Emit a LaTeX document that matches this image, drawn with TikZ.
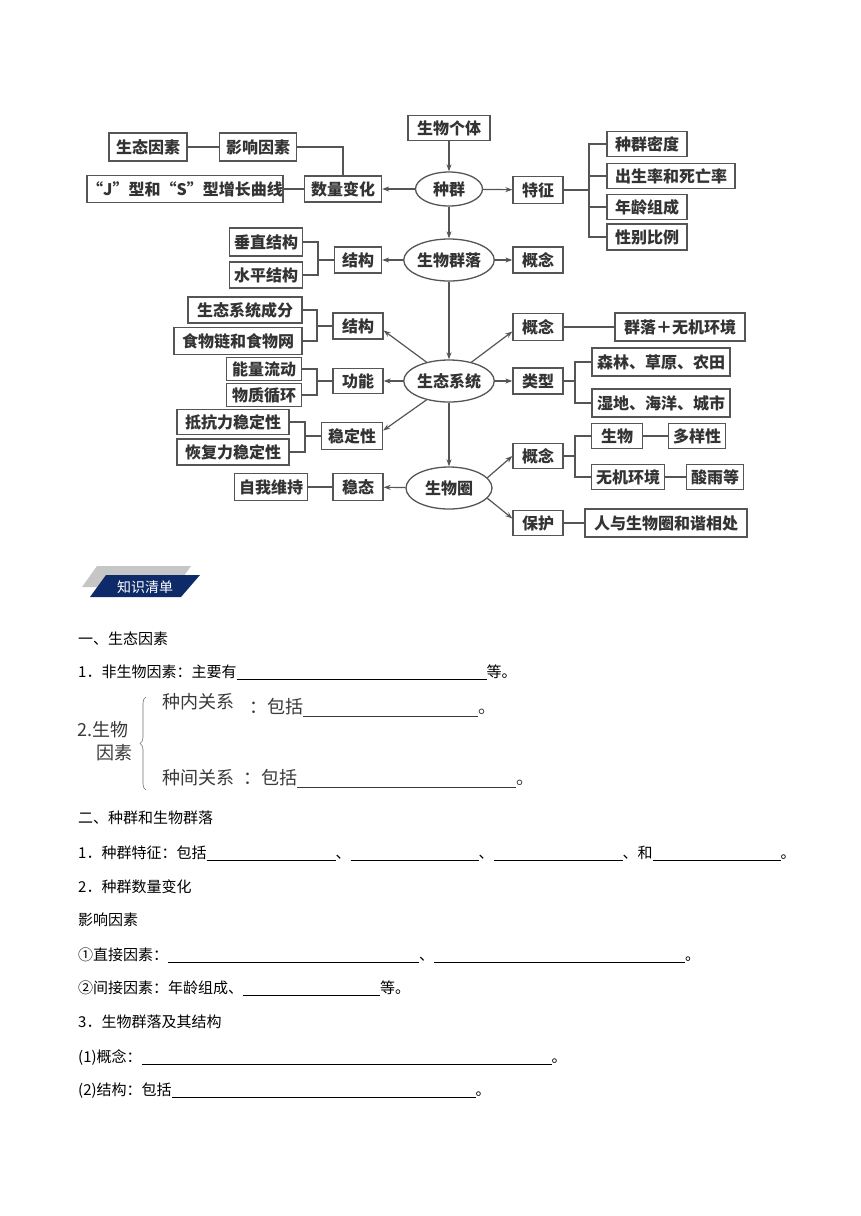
\documentclass[tikz,border=0pt]{standalone}
\usepackage{fontspec}
\setmainfont{Noto Sans CJK SC}
\usetikzlibrary{arrows.meta,shapes.geometric,decorations.pathreplacing,shadows}
\definecolor{mapLine}{HTML}{555555}
\definecolor{mapText}{HTML}{333333}
\definecolor{tagNavy}{HTML}{0E2A68}
\definecolor{tagGray}{HTML}{C6C6C6}
\definecolor{bioText}{HTML}{3A3A3A}
\newcommand{\mapfont}{\fontsize{16}{19}\selectfont\bfseries}
\newcommand{\bodyfont}{\fontsize{15}{18}\selectfont}
\newcommand{\bigfont}{\fontsize{18}{21}\selectfont}
\newcommand{\blank}[2][-1.5pt]{\rule[#1]{#2pt}{0.6pt}}
\tikzset{
  mapbox/.style={
    draw=mapLine, line width=1.3pt, fill=white, text=mapText, font=\mapfont,
    inner sep=0pt, minimum height=26pt,
    drop shadow={shadow xshift=0.8pt, shadow yshift=-0.8pt, fill=black!25}
  },
  mapell/.style={
    ellipse, draw=mapLine, line width=1.3pt, fill=white, text=mapText, font=\mapfont,
    inner sep=0pt, minimum width=86pt, minimum height=42pt
  },
  link/.style={draw=mapLine, line width=1.2pt},
  arr/.style={link, -{Stealth[length=7pt,width=5pt]}},
  body/.style={anchor=base west, inner sep=0pt, font=\bodyfont},
  bio/.style={anchor=base west, inner sep=0pt, font=\bigfont, text=bioText},
  brace/.style={decorate, decoration={brace, amplitude=6pt}, draw=black!55, line width=0.6pt}
}

\begin{document}
\begin{tikzpicture}[x=1pt, y=-1pt]
  \useasboundingbox (0,0) rectangle (860,1216);
  \fill[white] (0,0) rectangle (860,1216);

  % concept map: population
  \node[mapbox, minimum width=82pt, minimum height=25pt] (geti) at (449,128) {生物个体};
  \node[mapell, minimum width=67pt, minimum height=34pt] (zq) at (449,189) {种群};
  \node[mapbox, minimum width=50pt, minimum height=27pt] (tz) at (538,190) {特征};
  \node[mapbox, minimum width=80pt, minimum height=25pt] (mid) at (647,144) {种群密度};
  \node[mapbox, minimum width=128pt, minimum height=25pt] (csl) at (671,176) {出生率和死亡率};
  \node[mapbox, minimum width=80pt, minimum height=25pt] (nl) at (647,207) {年龄组成};
  \node[mapbox, minimum width=80pt, minimum height=26pt] (xb) at (647,237) {性别比例};
  \node[mapbox, minimum width=77pt] (slbh) at (343,189) {数量变化};
  \node[mapbox, minimum width=196pt, minimum height=27pt] (jscurve) at (185,189) {“J”型和“S”型增长曲线};
  \node[mapbox, minimum width=77pt, minimum height=28pt] (yxys) at (258,147) {影响因素};
  \node[mapbox, minimum width=78pt, minimum height=28pt] (stys) at (148,147) {生态因素};

  \draw[arr] (geti) -- (zq);
  \draw[arr] (zq) -- (tz);
  \draw[arr] (zq) -- (slbh);
  \draw[link] (slbh) -- (jscurve);
  \draw[link] (stys) -- (yxys);
  \draw[link] (yxys.east) -| (slbh.north);
  \coordinate (tzb) at (589,190);
  \draw[link] (tz.east) -- (tzb);
  \foreach \c in {mid,csl,nl,xb}
    \draw[link] (tzb) |- (\c.west);

  % community
  \node[mapell] (ql) at (449,260) {生物群落};
  \node[mapbox, minimum width=50pt] (qlgn) at (538,260) {概念};
  \node[mapbox, minimum width=47pt] (qljg) at (358,260) {结构};
  \node[mapbox, minimum width=73pt, minimum height=28pt] (czjg) at (266,242) {垂直结构};
  \node[mapbox, minimum width=73pt] (spjg) at (266,275) {水平结构};

  \draw[arr] (zq) -- (ql);
  \draw[arr] (ql) -- (qlgn);
  \draw[arr] (ql) -- (qljg);
  \coordinate (qljgb) at (318,260);
  \draw[link] (qljg.west) -- (qljgb);
  \foreach \c in {czjg,spjg}
    \draw[link] (qljgb) |- (\c.east);

  % ecosystem
  \node[mapell] (stxt) at (449,381) {生态系统};
  \node[mapbox, minimum width=50pt] (xtjg) at (358,326) {结构};
  \node[mapbox, minimum width=114pt] (cf) at (245,310) {生态系统成分};
  \node[mapbox, minimum width=128pt, minimum height=27pt] (swl) at (238,341) {食物链和食物网};
  \node[mapbox, minimum width=50pt, minimum height=25pt] (gn) at (358,381) {功能};
  \node[mapbox, minimum width=75pt, minimum height=23pt] (nlld) at (264,369) {能量流动};
  \node[mapbox, minimum width=75pt, minimum height=23pt] (wzxh) at (264,395) {物质循环};
  \node[mapbox, minimum width=61pt, minimum height=27pt] (wdx) at (352,436) {稳定性};
  \node[mapbox, minimum width=112pt, minimum height=25pt] (dk) at (233,422) {抵抗力稳定性};
  \node[mapbox, minimum width=112pt] (hf) at (233,452) {恢复力稳定性};
  \node[mapbox, minimum width=50pt, minimum height=27pt] (xtgn) at (538,327) {概念};
  \node[mapbox, minimum width=130pt, minimum height=28pt] (qlhj) at (680,327) {群落＋无机环境};
  \node[mapbox, minimum width=50pt] (lx) at (538,381) {类型};
  \node[mapbox, minimum width=138pt, minimum height=28pt] (sl) at (661,362) {森林、草原、农田};
  \node[mapbox, minimum width=138pt, minimum height=28pt] (sd) at (661,403) {湿地、海洋、城市};

  \draw[arr] (ql) -- (stxt);
  \draw[arr] (stxt.140) -- (xtjg.-10);
  \draw[arr] (stxt) -- (gn);
  \draw[arr] (stxt.220) -- (wdx.10);
  \draw[arr] (stxt.40) -- (xtgn.190);
  \draw[arr] (stxt) -- (lx);
  \draw[link] (xtgn) -- (qlhj);
  \coordinate (xtjgb) at (317,326);
  \draw[link] (xtjg.west) -- (xtjgb);
  \foreach \c in {cf,swl}
    \draw[link] (xtjgb) |- (\c.east);
  \coordinate (gnb) at (317,381);
  \draw[link] (gn.west) -- (gnb);
  \foreach \c in {nlld,wzxh}
    \draw[link] (gnb) |- (\c.east);
  \coordinate (wdxb) at (305,436);
  \draw[link] (wdx.west) -- (wdxb);
  \foreach \c in {dk,hf}
    \draw[link] (wdxb) |- (\c.east);
  \coordinate (lxb) at (575,381);
  \draw[link] (lx.east) -- (lxb);
  \foreach \c in {sl,sd}
    \draw[link] (lxb) |- (\c.west);

  % biosphere
  \node[mapell] (swq) at (449,488) {生物圈};
  \node[mapbox, minimum width=50pt, minimum height=27pt] (wt) at (358,487) {稳态};
  \node[mapbox, minimum width=73pt, minimum height=27pt] (zwwc) at (271,487) {自我维持};
  \node[mapbox, minimum width=50pt, minimum height=25pt] (swqgn) at (538,456) {概念};
  \node[mapbox, minimum width=51pt, minimum height=25pt] (sw) at (617,436) {生物};
  \node[mapbox, minimum width=57pt, minimum height=25pt] (dyx) at (697,436) {多样性};
  \node[mapbox, minimum width=73pt, minimum height=25pt] (wjhj) at (628,477) {无机环境};
  \node[mapbox, minimum width=57pt, minimum height=25pt] (sy) at (715,477) {酸雨等};
  \node[mapbox, minimum width=50pt, minimum height=25pt] (bh) at (538,523) {保护};
  \node[mapbox, minimum width=162pt, minimum height=28pt] (hx) at (666,523) {人与生物圈和谐相处};

  \draw[arr] (stxt) -- (swq);
  \draw[arr] (swq) -- (wt);
  \draw[link] (wt) -- (zwwc);
  \draw[arr] (swq.15) -- (swqgn.west);
  \draw[arr] (swq.-15) -- (bh.170);
  \coordinate (swqb) at (575,456);
  \draw[link] (swqgn.east) -- (swqb);
  \foreach \c in {sw,wjhj}
    \draw[link] (swqb) |- (\c.west);
  \draw[link] (sw) -- (dyx);
  \draw[link] (wjhj) -- (sy);
  \draw[link] (bh) -- (hx);

  % knowledge list
  \fill[tagGray] (82,587) -- (97,566) -- (191,566) -- (176,587) -- cycle;
  \fill[tagNavy] (90,597) -- (106,575) -- (200,575) -- (181,597) -- cycle;
  \node[text=white, font=\fontsize{14}{16}\selectfont] (tag) at (145,587) {知识清单};

  \node[body] (s1) at (78,644.7) {一、生态因素};
  \node[body] (s1a) at (78,677.7) {1．非生物因素：主要有\blank{250}等。};
  \node[bio] (swys) at (77,736.8) {2.生物};
  \node[bio] (swys2) at (96,759.8) {因素};
  \draw[brace] (146,790) -- (146,697);
  \node[bio] (zn) at (162,708.8) {种内关系};
  \node[bio] (znbk) at (249,713.8) {：包括\blank[-3pt]{175}。};
  \node[bio] (zj) at (162,784.8) {种间关系};
  \node[bio] (zjbk) at (243,784.8) {：包括\blank[-3pt]{219}。};

  \node[body] (s2) at (78,823.7) {二、种群和生物群落};
  \node[body] (s2a) at (78,858.7) {1．种群特征：包括\blank{129}、\blank{128}、\blank{129}、和\blank{128}。};
  \node[body] (s2b) at (78,892.7) {2．种群数量变化};
  \node[body] (s2c) at (78,925.7) {影响因素};
  \node[body] (s2d) at (78,960.7) {①直接因素：\blank{251}、\blank{251}。};
  \node[body] (s2e) at (78,993.7) {②间接因素：年龄组成、\blank{137}等。};
  \node[body] (s2f) at (78,1027.7) {3．生物群落及其结构};
  \node[body] (s2g) at (78,1062.7) {(1)概念：\blank{410}。};
  \node[body] (s2h) at (78,1095.7) {(2)结构：包括\blank{304}。};
\end{tikzpicture}
\end{document}
